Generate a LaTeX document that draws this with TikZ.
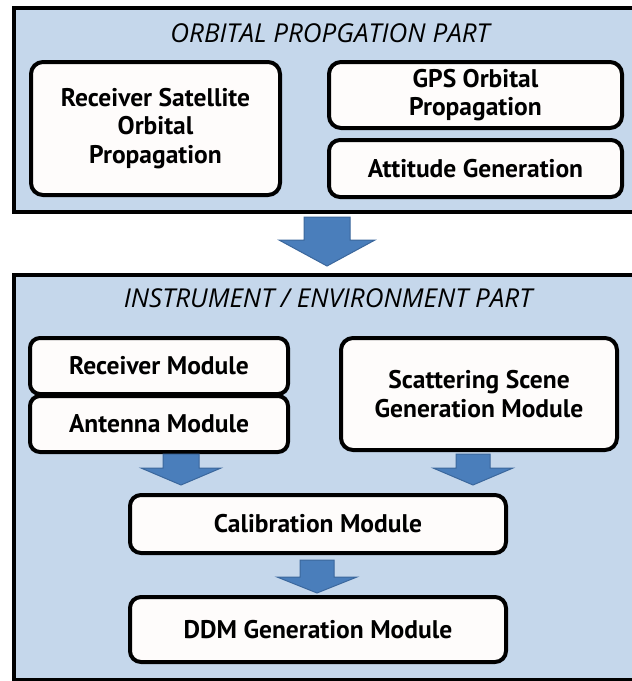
\documentclass[tikz,border=0pt]{standalone}
\usepackage{fontspec}
\setmainfont{PT Sans}
\newfontfamily\titlefont{Open Sans}
\definecolor{panelblue}{HTML}{C5D7EB}
\definecolor{boxwhite}{HTML}{FEFCFB}
\definecolor{arrowblue}{HTML}{4A7EBB}
\definecolor{arrowedge}{HTML}{3B679C}
\begin{document}
\begin{tikzpicture}[x=1pt,y=-1pt,
  panel/.style={draw=black, line width=4pt, fill=panelblue, inner sep=0pt, anchor=north west},
  box/.style={draw=black, line width=4pt, fill=boxwhite, rounded corners=12pt, inner sep=0pt,
              font=\fontsize{25.5}{28.5}\selectfont\bfseries, align=center},
  parttitle/.style={font=\fontsize{26}{28}\selectfont\titlefont\itshape, inner sep=0pt},
  blockarrow/.style={fill=arrowblue, draw=arrowedge, line width=1pt, line join=miter}]
\useasboundingbox (0,0) rectangle (632,681);
\clip (0,0) rectangle (632,681);
\fill[white] (0,0) rectangle (632,681);
% panels
\node[panel, minimum width=630pt, minimum height=204pt] (p1) at (12,6) {};
\node[panel, minimum width=630pt, minimum height=405pt] (p2) at (12,273) {};
\node[parttitle] (t1) at (330,33) {ORBITAL PROPGATION PART};
\node[parttitle] (t2) at (328,298) {INSTRUMENT / ENVIRONMENT PART};
% orbital part boxes
\node[box, minimum width=249pt, minimum height=133pt] (rs) at (155.5,128.5)
  {Receiver Satellite\\Orbital\\Propagation};
\node[box, minimum width=293pt, minimum height=66pt] (gps) at (475.5,95)
  {GPS Orbital\\Propagation};
\node[box, minimum width=293pt, minimum height=57pt, rounded corners=11pt] (att) at (475.5,168.5)
  {Attitude Generation};
% instrument part boxes
\node[box, minimum width=258pt, minimum height=56pt, rounded corners=10pt] (rm) at (159,366)
  {Receiver Module};
\node[box, minimum width=258pt, minimum height=56pt, rounded corners=10pt] (am) at (159,424)
  {Antenna Module};
\node[box, minimum width=276pt, minimum height=112pt] (ss) at (479,394)
  {Scattering Scene\\Generation Module};
\node[box, minimum width=376pt, minimum height=58pt, rounded corners=11pt] (cal) at (318,524)
  {Calibration Module};
\node[box, minimum width=376pt, minimum height=65pt, rounded corners=11pt] (ddm) at (318,629.5)
  {DDM Generation Module};
% block arrows
\coordinate (a1) at (327,217);
\coordinate (a2) at (181,454);
\coordinate (a3) at (473,454);
\coordinate (a4) at (317,560);
\draw[blockarrow, shift={(a1)}] (-23,0) -- (23,0) -- (23,23) -- (48,23) -- (0,49) -- (-48,23) -- (-23,23) -- cycle;
\draw[blockarrow, shift={(a2)}] (-18,0) -- (18,0) -- (18,14) -- (40,14) -- (0,31) -- (-40,14) -- (-18,14) -- cycle;
\draw[blockarrow, shift={(a3)}] (-17,0) -- (17,0) -- (17,14) -- (40,14) -- (0,31) -- (-40,14) -- (-17,14) -- cycle;
\draw[blockarrow, shift={(a4)}] (-17,0) -- (17,0) -- (17,17) -- (40,17) -- (0,33) -- (-40,17) -- (-17,17) -- cycle;
\end{tikzpicture}
\end{document}
